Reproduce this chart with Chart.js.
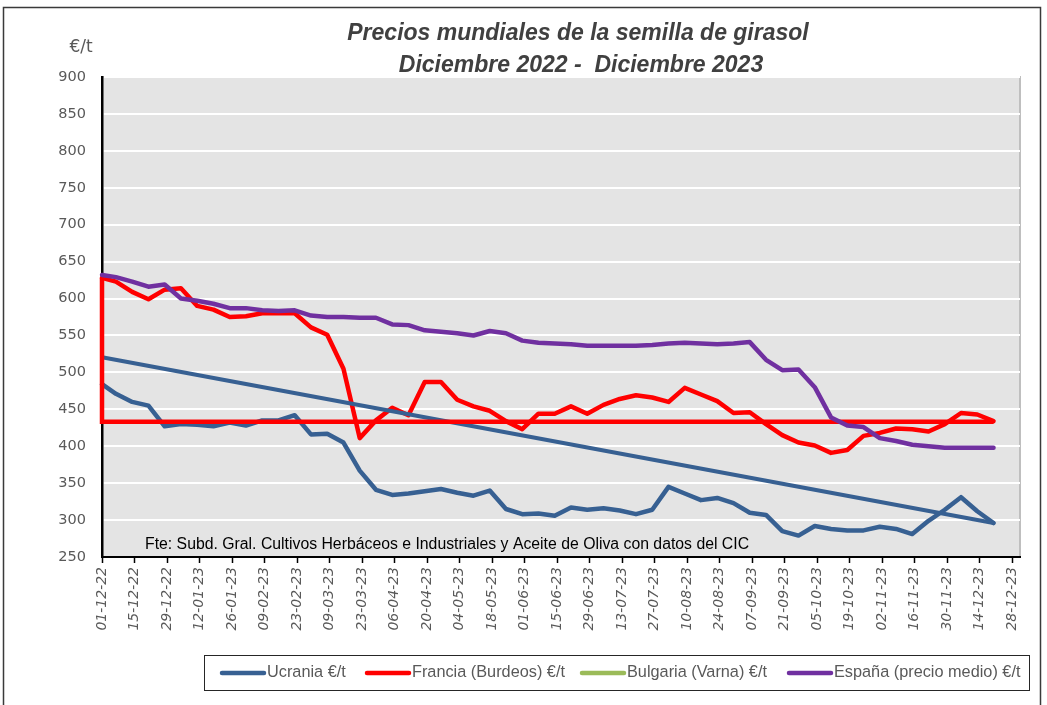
<!DOCTYPE html>
<html>
<head>
<meta charset="utf-8">
<script src="https://cdn.jsdelivr.net/npm/chart.js@4.4.1/dist/chart.umd.min.js"></script>
<style>
  html, body { margin: 0; padding: 0; background: #ffffff; }
  #wrap { width: 1047px; height: 705px; }
</style>
</head>
<body>
<div id="wrap"><canvas id="c" width="1047" height="705"></canvas></div>
<script>
// ---------------- DATA ----------------
const titleLines = ['Precios mundiales de la semilla de girasol', 'Diciembre 2022 -  Diciembre 2023'];
const yUnit = '€/t';
const sourceNote = 'Fte: Subd. Gral. Cultivos Herbáceos e Industriales y Aceite de Oliva con datos del CIC';

const dates = ['01-12-22','07-12-22','14-12-22','21-12-22','28-12-22','04-01-23','11-01-23','18-01-23','25-01-23',
  '01-02-23','08-02-23','15-02-23','22-02-23','01-03-23','08-03-23','15-03-23','22-03-23','29-03-23',
  '05-04-23','12-04-23','19-04-23','26-04-23','03-05-23','10-05-23','17-05-23','24-05-23','31-05-23',
  '07-06-23','14-06-23','21-06-23','28-06-23','05-07-23','12-07-23','19-07-23','26-07-23',
  '02-08-23','09-08-23','16-08-23','23-08-23','30-08-23','06-09-23','13-09-23','20-09-23','27-09-23',
  '04-10-23','11-10-23','18-10-23','25-10-23','01-11-23','08-11-23','15-11-23','22-11-23','29-11-23',
  '06-12-23','13-12-23','20-12-23'];

const tickLabels = ['01-12-22','15-12-22','29-12-22','12-01-23','26-01-23','09-02-23','23-02-23','09-03-23',
  '23-03-23','06-04-23','20-04-23','04-05-23','18-05-23','01-06-23','15-06-23','29-06-23','13-07-23',
  '27-07-23','10-08-23','24-08-23','07-09-23','21-09-23','05-10-23','19-10-23','02-11-23','16-11-23',
  '30-11-23','14-12-23','28-12-23'];

const ucrania = [484,471,460,455,427,430,429,427,432,428,435,435,442,416,417,405,367,341,334,336,339,342,337,333,
  340,315,308,309,306,317,314,316,313,308,314,345,336,327,330,323,310,307,285,279,292,288,286,286,291,288,281,299,
  314,331,312,296];
const francia = [628,623,609,599,612,614,590,585,575,576,580,580,580,561,551,505,411,435,452,442,487,487,463,454,
  448,434,423,444,444,454,444,456,464,469,466,460,479,470,461,445,446,430,415,405,401,391,395,414,418,424,423,420,
  430,445,443,434];
const bulgaria = [];
const espana = [632,629,623,616,619,600,597,593,587,587,584,583,584,577,575,575,574,574,565,564,557,555,553,550,
  556,553,543,540,539,538,536,536,536,536,537,539,540,539,538,539,541,517,503,504,480,439,428,426,411,407,402,400,
  398,398,398,398];

const ucraniaTrend = [520.5, 296];   // linear trend, first and last date
const franciaMedia = 433;            // reference level drawn in red

const seriesNames = ['Ucrania €/t', 'Francia (Burdeos) €/t', 'Bulgaria (Varna) €/t', 'España (precio medio) €/t'];
const seriesColors = ['#376092', '#ff0000', '#9bbb59', '#7030a0'];

const yMin = 250, yMax = 900, yStep = 50;

// ---------------- HELPERS ----------------
function dayNum(s) {
  const p = s.split('-').map(Number);
  return Date.UTC(2000 + p[2], p[1] - 1, p[0]) / 86400000;
}
const day0 = dayNum(tickLabels[0]);
const xs = dates.map(d => dayNum(d) - day0);
const tickXs = tickLabels.map(d => dayNum(d) - day0);
const pts = arr => arr.map((v, i) => ({ x: xs[i], y: v }));
const lastX = xs[xs.length - 1];

const GRAY = '#595959';

// ---------------- PLUGINS ----------------
const decor = {
  id: 'decor',
  beforeDraw(chart) {
    const { ctx, chartArea: a } = chart;
    ctx.save();
    ctx.fillStyle = '#ffffff';
    ctx.fillRect(0, 0, chart.width, chart.height);
    ctx.fillStyle = '#e4e4e4';
    ctx.fillRect(a.left, a.top, a.right - a.left, a.bottom - a.top);
    ctx.strokeStyle = '#bfbfbf';
    ctx.lineWidth = 2;
    ctx.beginPath();
    ctx.moveTo(a.left, a.top); ctx.lineTo(a.right, a.top); ctx.lineTo(a.right, a.bottom);
    ctx.stroke();
    // outer frame
    ctx.strokeStyle = '#3a3a3a';
    ctx.lineWidth = 1.5;
    ctx.beginPath();
    ctx.moveTo(3.5, 705); ctx.lineTo(3.5, 7.5); ctx.lineTo(1040.5, 7.5); ctx.lineTo(1040.5, 705);
    ctx.stroke();
    ctx.restore();
  },
  afterDraw(chart) {
    const { ctx } = chart;
    ctx.save();
    // title
    ctx.fillStyle = '#404040';
    ctx.font = 'italic bold 23px "Liberation Sans Narrow", "Liberation Sans", sans-serif';
    ctx.textAlign = 'center';
    ctx.textBaseline = 'middle';
    ctx.fillText(titleLines[0], 578, 34);
    ctx.fillText(titleLines[1], 581, 66);
    // unit
    ctx.fillStyle = GRAY;
    ctx.font = '17px "DejaVu Sans", sans-serif';
    ctx.fillText(yUnit, 81, 48);
    // source note
    ctx.fillStyle = '#000000';
    ctx.font = '15.8px "Liberation Sans", sans-serif';
    ctx.textAlign = 'left';
    ctx.fillText(sourceNote, 145, 545);
    // legend
    ctx.strokeStyle = '#262626';
    ctx.lineWidth = 1;
    ctx.strokeRect(204.5, 655.5, 825, 35);
    const lx = [220, 365, 580, 787];
    ctx.font = '16.3px "Liberation Sans", sans-serif';
    ctx.textBaseline = 'middle';
    seriesNames.forEach((n, i) => {
      ctx.strokeStyle = seriesColors[i];
      ctx.lineWidth = 4.5;
      ctx.lineCap = 'round';
      ctx.beginPath();
      ctx.moveTo(lx[i] + 2, 673); ctx.lineTo(lx[i] + 44, 673);
      ctx.stroke();
      ctx.fillStyle = GRAY;
      ctx.fillText(n, lx[i] + 47, 673);
    });
    ctx.restore();
  }
};

// ---------------- CHART ----------------
const lineBase = { borderWidth: 4.5, pointRadius: 0, pointHoverRadius: 0, fill: false, tension: 0, clip: false,
  borderJoinStyle: 'round', borderCapStyle: 'round' };

new Chart(document.getElementById('c'), {
  type: 'line',
  data: {
    datasets: [
      Object.assign({}, lineBase, { label: seriesNames[3], data: pts(espana), borderColor: seriesColors[3], order: 0 }),
      Object.assign({}, lineBase, { label: 'media', data: [
          { x: xs[0], y: francia[0] }, { x: xs[0], y: franciaMedia }, { x: lastX, y: franciaMedia }],
          borderColor: seriesColors[1], order: 1, borderJoinStyle: 'miter', borderCapStyle: 'butt' }),
      Object.assign({}, lineBase, { label: 'tendencia', data: [
          { x: xs[0], y: ucraniaTrend[0] }, { x: lastX, y: ucraniaTrend[1] }],
          borderColor: seriesColors[0], borderWidth: 4, order: 2 }),
      Object.assign({}, lineBase, { label: seriesNames[1], data: pts(francia), borderColor: seriesColors[1], order: 3 }),
      Object.assign({}, lineBase, { label: seriesNames[2], data: pts(bulgaria), borderColor: seriesColors[2], order: 4 }),
      Object.assign({}, lineBase, { label: seriesNames[0], data: pts(ucrania), borderColor: seriesColors[0], order: 5 })
    ]
  },
  options: {
    responsive: false,
    animation: false,
    devicePixelRatio: 1,
    layout: { padding: { left: 0, top: 77, right: 27, bottom: 0 } },
    plugins: { legend: { display: false }, title: { display: false }, tooltip: { enabled: false } },
    scales: {
      x: {
        type: 'linear',
        min: 0,
        max: 395.4,
        afterBuildTicks: s => { s.ticks = tickXs.map(v => ({ value: v })); },
        afterFit: s => { s.height = 148; },
        ticks: {
          autoSkip: false,
          minRotation: 90,
          maxRotation: 90,
          padding: 4,
          color: GRAY,
          font: { family: '"DejaVu Sans", sans-serif', size: 14, style: 'italic' },
          callback: (v, i) => tickLabels[i]
        },
        grid: { drawOnChartArea: false, drawTicks: true, tickLength: 6, tickColor: '#000000', tickWidth: 1.5 },
        border: { display: true, color: '#000000', width: 2 }
      },
      y: {
        min: yMin,
        max: yMax,
        afterFit: s => { s.width = 102; },
        ticks: {
          stepSize: yStep,
          padding: 16,
          color: GRAY,
          font: { family: '"DejaVu Sans", sans-serif', size: 14.5 }
        },
        grid: { color: '#ffffff', lineWidth: 2, drawTicks: false },
        border: { display: true, color: '#000000', width: 2.5 }
      }
    }
  },
  plugins: [decor]
});
</script>
</body>
</html>
